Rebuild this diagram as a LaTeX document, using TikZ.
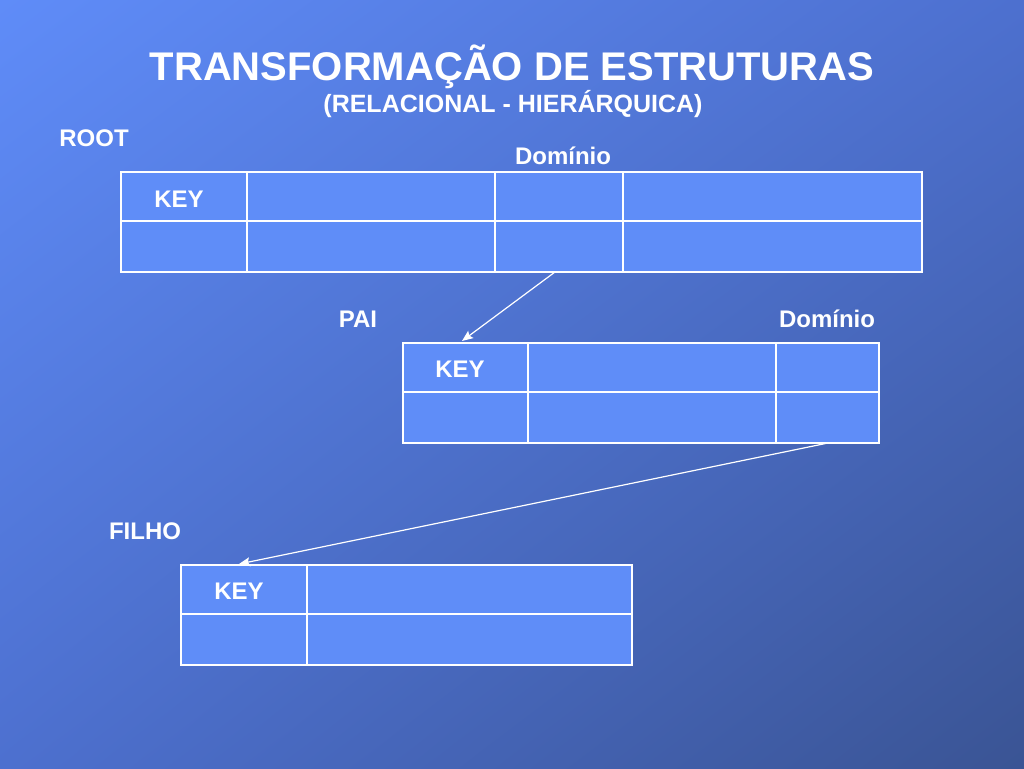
\documentclass[tikz,border=0pt]{standalone}
\usepackage{fontspec}
\setmainfont{Liberation Sans}
\usetikzlibrary{arrows.meta,shadings}
\definecolor{bgA}{HTML}{5F8CF8}
\definecolor{bgB}{HTML}{4D70CF}
\definecolor{bgC}{HTML}{3A5494}
\definecolor{tfill}{HTML}{5F8DF8}
\tikzset{
  tbl/.style={draw=white, line width=1.5pt, fill=tfill, inner sep=0pt, anchor=north west},
  cell/.style={draw=white, line width=1.5pt},
  lbl/.style={text=white, font=\bfseries\fontsize{24}{28}\selectfont, anchor=base, inner sep=0pt},
  ttl/.style={text=white, font=\bfseries\fontsize{40}{46}\selectfont, anchor=base, inner sep=0pt},
  sub/.style={text=white, font=\bfseries\fontsize{25}{30}\selectfont, anchor=base, inner sep=0pt},
  arr/.style={draw=white, line width=1.2pt, -{Stealth[length=11pt,width=9pt,inset=2pt]}}
}
\begin{document}
\begin{tikzpicture}[x=1pt,y=-1pt]
\shade[upper left=bgA, upper right=bgB, lower left=bgB, lower right=bgC] (0,0) rectangle (1024,768);
\useasboundingbox (0,0) rectangle (1024,768);
% titles
\node[ttl] (title) at (512,81) {TRANSFORMAÇÃO DE ESTRUTURAS};
\node[sub] (subtitle) at (513,112) {(RELACIONAL - HIERÁRQUICA)};
% labels
\node[lbl] (root) at (94,146) {ROOT};
\node[lbl] (dom1) at (563,164) {Domínio};
\node[lbl] (pai) at (358,327) {PAI};
\node[lbl] (dom2) at (827,327) {Domínio};
\node[lbl] (filho) at (145,539) {FILHO};
% table 1
\node[tbl, minimum width=801pt, minimum height=100pt] (t1) at (120,171) {};
\draw[cell] (120,221) -- (921,221);
\draw[cell] (247,171) -- (247,271);
\draw[cell] (495,171) -- (495,271);
\draw[cell] (623,171) -- (623,271);
\node[lbl] (k1) at (179,207) {KEY};
% table 2
\node[tbl, minimum width=476pt, minimum height=100pt] (t2) at (402,342) {};
\draw[cell] (402,392) -- (878,392);
\draw[cell] (528,342) -- (528,442);
\draw[cell] (776,342) -- (776,442);
\node[lbl] (k2) at (460,377) {KEY};
% table 3
\node[tbl, minimum width=451pt, minimum height=100pt] (t3) at (180,564) {};
\draw[cell] (180,614) -- (631,614);
\draw[cell] (307,564) -- (307,664);
\node[lbl] (k3) at (239,599) {KEY};
% arrows
\coordinate (a1s) at (555,272);
\coordinate (a1e) at (462,341);
\coordinate (a2s) at (828,443);
\coordinate (a2e) at (239,564);
\draw[arr] (a1s) -- (a1e);
\draw[arr] (a2s) -- (a2e);
\end{tikzpicture}
\end{document}
